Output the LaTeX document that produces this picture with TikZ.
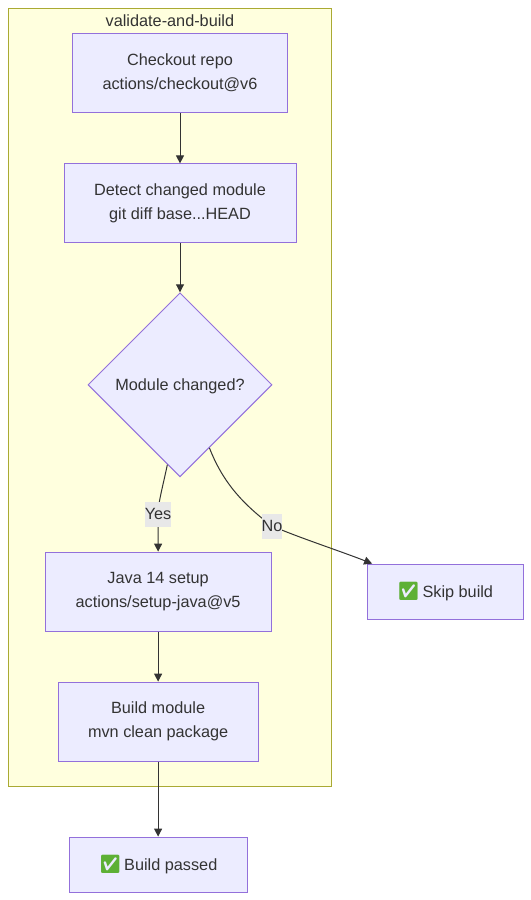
\documentclass[tikz,border=0pt]{standalone}
\usepackage{fontspec}
\setmainfont{Liberation Sans}
\newfontfamily\emojifont{Noto Emoji}
\usetikzlibrary{arrows.meta}
\usetikzlibrary{shapes.geometric}
\definecolor{boxfill}{HTML}{ECECFF}
\definecolor{boxline}{HTML}{9370DB}
\definecolor{groupfill}{HTML}{FFFFDE}
\definecolor{groupline}{HTML}{AAAA33}
\definecolor{inkgrey}{HTML}{333333}
\definecolor{labelgrey}{HTML}{E8E8E8}
\definecolor{tickgreen}{HTML}{5DB035}
\newcommand{\tick}{\textcolor{tickgreen}{\emojifont\fontsize{13.5}{18}\selectfont ✅}\hspace{-1.5pt}}
\newcommand{\textstrut}{\rule[-2.6pt]{0pt}{13.25pt}}
\tikzset{
  stepbox/.style={draw=boxline,fill=boxfill,text=inkgrey,align=center,inner sep=0pt,line width=0.75pt,
    font=\fontsize{12.2}{18}\selectfont,minimum height=59.25pt,execute at begin node=\textstrut},
  endbox/.style={stepbox,minimum height=41.25pt},
  edge/.style={draw=inkgrey,line width=0.75pt,-{Triangle[length=6pt,width=6pt]}},
  edgelabel/.style={fill=labelgrey,text=inkgrey,inner sep=0pt,minimum height=18.75pt,
    font=\fontsize{12.2}{18}\selectfont,execute at begin node=\textstrut}
}
\begin{document}
\begin{tikzpicture}[x=0.75pt,y=-0.75pt]
  \useasboundingbox (0,0) rectangle (531,900);

  % Group
  \node[draw=groupline,fill=groupfill,line width=0.75pt,minimum width=242.25pt,minimum height=583.1pt,inner sep=0pt] (group) at (169.7,397.6) {};
  \node[text=inkgrey,font=\fontsize{12.2}{18}\selectfont] (grouptitle) at (169.9,21) {validate-and-build};

  % Steps
  \node[stepbox,minimum width=161.25pt] (checkout) at (180,73.4) {Checkout repo\\actions/checkout@v6};
  \node[stepbox,minimum width=174pt] (detect) at (180,203.4) {Detect changed module\\git diff base...HEAD};
  \node[stepbox,shape=diamond,aspect=1,minimum width=138pt,minimum height=138pt] (decide) at (180,384.8) {Module changed?};
  \node[stepbox,minimum width=169.5pt] (java) at (158.1,591.6) {Java 14 setup\\actions/setup-java@v5};
  \node[stepbox,minimum width=150pt] (build) at (158.1,721.6) {Build module\\mvn clean package};

  % Results
  \node[endbox,minimum width=133.5pt] (passed) at (158.1,864.6) {\tick{} Build passed};
  \node[endbox,minimum width=117pt] (skip) at (445.1,591.6) {\tick{} Skip build};

  % Edges
  \draw[edge] (checkout) -- (detect);
  \draw[edge] (detect) -- (decide);
  \draw[edge] (decide.-99.5) .. controls (162,490) and (158.1,503) .. (158.1,514.5) node[edgelabel] (yes) {Yes} -- (java.north);
  \draw[edge] (decide.-65.3) .. controls (222,480) and (240,502) .. (272,526) node[edgelabel] (no) {No} .. controls (300,538) and (340,551) .. (skip.159.4);
  \draw[edge] (java) -- (build);
  \draw[edge] (build) -- (passed);
\end{tikzpicture}
\end{document}
